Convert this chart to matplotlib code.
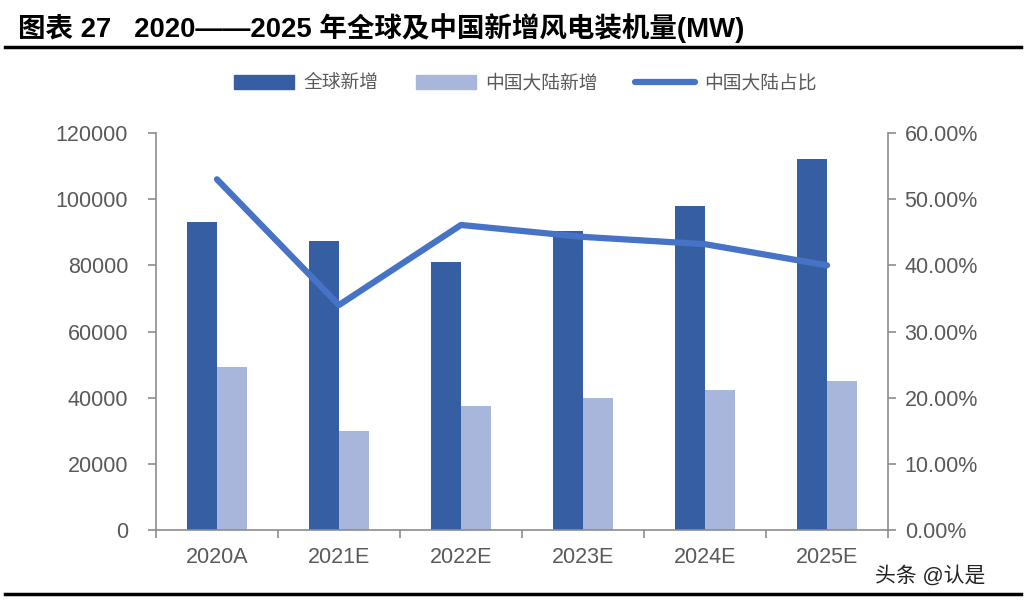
import numpy as np
import matplotlib.pyplot as plt
from matplotlib.lines import Line2D
from matplotlib.patches import Patch
from matplotlib.ticker import FuncFormatter

plt.rcParams['font.family'] = ['Liberation Sans', 'Noto Sans CJK SC', 'DejaVu Sans']

# data
years = ['2020A', '2021E', '2022E', '2023E', '2024E', '2025E']
global_new = [93000, 87400, 81000, 90400, 98000, 112100]
china_new = [49300, 29900, 37500, 39900, 42300, 45000]
china_share = [0.530, 0.340, 0.461, 0.443, 0.432, 0.400]

c_dark = '#365FA3'
c_light = '#A9B6DB'
c_line = '#4673C6'
c_axis = '#8C8C8C'
c_text = '#595959'

fig = plt.figure(figsize=(10.26, 6.04), dpi=100)
ax = fig.add_axes([0.152, 0.1225, 0.7135, 0.6573])
ax2 = ax.twinx()

x = np.arange(len(years))
w = 0.245
ax.bar(x - w / 2, global_new, width=w, color=c_dark, zorder=2)
ax.bar(x + w / 2, china_new, width=w, color=c_light, zorder=2)
ax2.plot(x, china_share, color=c_line, lw=4.5, solid_capstyle='round', zorder=3)

ax.set_xlim(-0.5, len(years) - 0.5)
ax.set_ylim(0, 120000)
ax.set_yticks(np.arange(0, 120001, 20000))
ax2.set_ylim(0, 0.6)
ax2.set_yticks(np.arange(0, 0.61, 0.1))
ax2.yaxis.set_major_formatter(FuncFormatter(lambda v, p: '%.2f%%' % (v * 100)))

ax.set_xticks(x)
ax.set_xticklabels(years)
ax.set_xticks(np.arange(-0.5, len(years), 1), minor=True)
ax.tick_params(axis='x', which='major', length=0, pad=12, labelsize=15.5, labelcolor=c_text)
ax.tick_params(axis='x', which='minor', length=6, width=1.2, color=c_axis, direction='out')
ax.tick_params(axis='y', length=6, width=1.2, color=c_axis, pad=14, labelsize=15.5, labelcolor=c_text)
ax2.tick_params(axis='y', length=6, width=1.2, color=c_axis, pad=6, labelsize=15.5, labelcolor=c_text)

for a in (ax, ax2):
    for s in a.spines.values():
        s.set_visible(False)
ax.spines['left'].set_visible(True)
ax.spines['bottom'].set_visible(True)
ax2.spines['right'].set_visible(True)
for s in (ax.spines['left'], ax.spines['bottom'], ax2.spines['right']):
    s.set_color(c_axis)
    s.set_linewidth(1.2)

handles = [Patch(color=c_dark), Patch(color=c_light),
           Line2D([0], [0], color=c_line, lw=4.5, solid_capstyle='round')]
labels = ['全球新增', '中国大陆新增', '中国大陆占比']
fig.legend(handles, labels, loc='center', bbox_to_anchor=(0.512, 0.862), ncol=3,
           frameon=False, fontsize=13.5, labelcolor=c_text, handlelength=3.2,
           handleheight=0.75, columnspacing=2.0, handletextpad=0.5)

fig.text(0.018, 0.953, '图表 27   2020——2025 年全球及中国新增风电装机量(MW)',
         fontsize=19.8, fontweight='bold', color='black', va='center', ha='left')
fig.add_artist(Line2D([0.005, 0.995], [0.922, 0.922], color='black', lw=2.5))
fig.add_artist(Line2D([0.005, 0.995], [0.017, 0.017], color='black', lw=2.5))
fig.text(0.853, 0.048, '头条 @认是', fontsize=15, color='#222222', va='center', ha='left')

fig.savefig('out.png', dpi=100)
